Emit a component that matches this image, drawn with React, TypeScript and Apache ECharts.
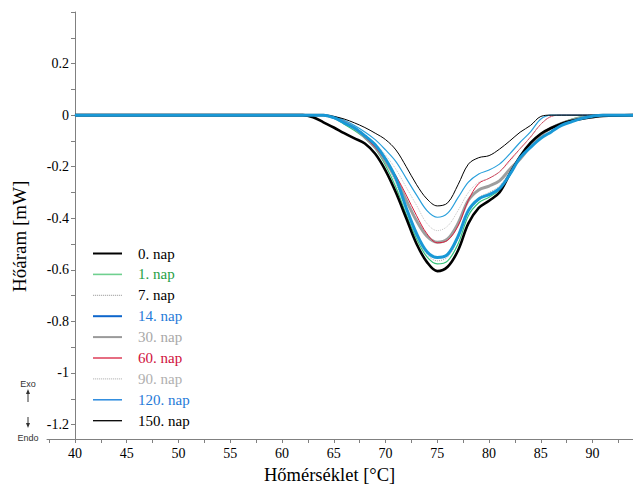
import React, { useEffect, useRef } from "react";
import * as echarts from "echarts";

const temps = [40, 62, 63, 64, 65, 66, 67, 68, 69, 70, 71, 72, 73, 74, 75, 76, 77, 78, 79, 80, 81, 82, 83, 84, 85, 86, 87, 88, 89, 90, 91, 94];

const nap0 = [0, 0, -0.008, -0.028, -0.048, -0.07, -0.09, -0.11, -0.15, -0.215, -0.3, -0.4, -0.5, -0.57, -0.605, -0.588, -0.525, -0.42, -0.36, -0.332, -0.3, -0.228, -0.16, -0.108, -0.072, -0.05, -0.033, -0.022, -0.014, -0.008, -0.003, 0];
const nap1 = [0, 0, 0, -0.002, -0.012, -0.035, -0.06, -0.09, -0.13, -0.195, -0.28, -0.385, -0.48, -0.55, -0.577, -0.565, -0.5, -0.39, -0.34, -0.318, -0.29, -0.23, -0.165, -0.12, -0.08, -0.05, -0.03, -0.015, -0.005, 0, 0, 0];
const nap7 = [0, 0, 0, -0.002, -0.01, -0.03, -0.055, -0.085, -0.125, -0.185, -0.265, -0.37, -0.47, -0.54, -0.565, -0.55, -0.48, -0.37, -0.32, -0.3, -0.275, -0.22, -0.16, -0.115, -0.08, -0.05, -0.03, -0.015, -0.005, 0, 0, 0];
const nap14 = [0, 0, 0, 0, -0.01, -0.03, -0.05, -0.08, -0.115, -0.17, -0.245, -0.36, -0.46, -0.53, -0.552, -0.54, -0.47, -0.37, -0.325, -0.308, -0.285, -0.23, -0.165, -0.125, -0.09, -0.065, -0.04, -0.025, -0.012, -0.004, 0, 0];
const nap30 = [0, 0, 0, 0, -0.008, -0.025, -0.05, -0.085, -0.125, -0.18, -0.245, -0.33, -0.41, -0.47, -0.493, -0.48, -0.42, -0.33, -0.29, -0.275, -0.255, -0.21, -0.17, -0.12, -0.078, -0.05, -0.032, -0.02, -0.01, -0.003, 0, 0];
const nap60 = [0, 0, 0, 0, -0.008, -0.025, -0.05, -0.085, -0.125, -0.175, -0.235, -0.31, -0.39, -0.46, -0.495, -0.485, -0.43, -0.33, -0.265, -0.245, -0.22, -0.175, -0.13, -0.085, -0.035, -0.005, 0, 0, 0, 0, 0, 0];
const nap90 = [0, 0, 0, 0, -0.007, -0.022, -0.045, -0.075, -0.11, -0.155, -0.21, -0.28, -0.35, -0.42, -0.448, -0.43, -0.37, -0.3, -0.26, -0.245, -0.22, -0.18, -0.13, -0.085, -0.035, -0.005, 0, 0, 0, 0, 0, 0];
const nap120 = [0, 0, 0, 0, -0.006, -0.02, -0.04, -0.065, -0.095, -0.135, -0.18, -0.245, -0.31, -0.37, -0.396, -0.38, -0.32, -0.26, -0.228, -0.213, -0.19, -0.15, -0.105, -0.065, -0.015, 0, 0, 0, 0, 0, 0, 0];
const nap150 = [0, 0, 0, 0, -0.005, -0.015, -0.03, -0.048, -0.07, -0.095, -0.135, -0.2, -0.27, -0.325, -0.352, -0.34, -0.27, -0.19, -0.165, -0.157, -0.132, -0.1, -0.066, -0.04, -0.005, 0, 0, 0, 0, 0, 0, 0];

const seriesNames = ["0. nap", "1. nap", "7. nap", "14. nap", "30. nap", "60. nap", "90. nap", "120. nap", "150. nap"];
const seriesValues = [nap0, nap1, nap7, nap14, nap30, nap60, nap90, nap120, nap150];

const yTickLabels = [0.2, 0, -0.2, -0.4, -0.6, -0.8, -1, -1.2];
const yTicks = [0.4, 0.3, 0.2, 0.1, 0, -0.1, -0.2, -0.3, -0.4, -0.5, -0.6, -0.7, -0.8, -0.9, -1, -1.1, -1.2];
const xTickLabels = [40, 45, 50, 55, 60, 65, 70, 75, 80, 85, 90];
const xTicks = [37.5, 40, 42.5, 45, 47.5, 50, 52.5, 55, 57.5, 60, 62.5, 65, 67.5, 70, 72.5, 75, 77.5, 80, 82.5, 85, 87.5, 90, 92.5];

const styles = [
  { color: "#000000", width: 2.6, type: "solid", text: "#000000", legendColor: "#000000", legendH: 2 },
  { color: "#35c27a", width: 1.2, type: "solid", text: "#1fa045", legendColor: "#6fd08f", legendH: 1.6 },
  { color: "#a8a8a8", width: 1, type: "dotted", text: "#000000", legendColor: "#b4b4b4", legendH: 1.2 },
  { color: "#1898d6", width: 3, type: "solid", text: "#1f7ad8", legendColor: "#0d66cc", legendH: 2 },
  { color: "#9e9e9e", width: 3, type: "solid", text: "#a8a8a8", legendColor: "#9a9a9a", legendH: 2 },
  { color: "#d8203f", width: 1, type: "solid", text: "#d0103c", legendColor: "#d8203f", legendH: 1.3 },
  { color: "#c4c4c4", width: 1, type: "dotted", text: "#b0b0b0", legendColor: "#c4c4c4", legendH: 1.2 },
  { color: "#2aa0dc", width: 1.2, type: "solid", text: "#1f7ad8", legendColor: "#2a8ade", legendH: 1.5 },
  { color: "#000000", width: 1, type: "solid", text: "#000000", legendColor: "#000000", legendH: 1.3 },
];

const serif = "'Liberation Serif', 'Times New Roman', serif";

function legendIcon(h: number, dotted: boolean): string {
  if (!dotted) return `path://M0,0h29v${h}h-29z`;
  let d = "";
  for (let x = 0; x < 29; x += 2) d += `M${x},0h1.2v${h}h-1.2z`;
  d += `M28.9,0h0.1v${h}h-0.1z`;
  return "path://" + d;
}

export default function App() {
  const ref = useRef<HTMLDivElement>(null);
  useEffect(() => {
    if (!ref.current) return;
    const chart = echarts.init(ref.current, undefined, { renderer: "svg" });
    const fmt = (v: number) => String(Number(v.toFixed(2)));
    chart.setOption({
      animation: false,
      backgroundColor: "#ffffff",
      grid: { left: 47, right: 0, top: 12, bottom: 52 },
      legend: {
        orient: "vertical",
        left: 93,
        top: 246,
        padding: 0,
        itemWidth: 29,
        itemHeight: 14,
        itemGap: 5.9,
        textStyle: { fontFamily: serif, fontSize: 15, padding: [0, 0, 0, 11] },
        data: seriesNames.map((n, i) => ({
          name: n,
          icon: legendIcon(styles[i].legendH, styles[i].type === "dotted"),
          itemStyle: { color: styles[i].legendColor, borderWidth: 0 },
          textStyle: { color: styles[i].text },
        })),
      },
      xAxis: {
        type: "value",
        min: 37.3,
        max: 93.9,
        axisLine: { onZero: false, lineStyle: { color: "#808080", width: 1 } },
        axisTick: { show: true, length: 4, customValues: xTicks, lineStyle: { color: "#808080" } },
        axisLabel: {
          customValues: xTickLabels,
          color: "#000",
          fontFamily: serif,
          fontSize: 14,
          margin: 7,
          formatter: (v: number) => fmt(v),
        },
        splitLine: { show: false },
      },
      yAxis: {
        type: "value",
        min: -1.256,
        max: 0.4,
        offset: -28,
        axisLine: { show: true, onZero: false, lineStyle: { color: "#808080", width: 1 } },
        axisTick: { show: true, length: 4, customValues: yTicks, lineStyle: { color: "#808080" } },
        axisLabel: {
          customValues: yTickLabels,
          color: "#000",
          fontFamily: serif,
          fontSize: 14,
          margin: 6,
          formatter: (v: number) => fmt(v),
        },
        splitLine: { show: false },
      },
      graphic: [
        {
          type: "text",
          left: 264,
          top: 465,
          style: { text: "Hőmérséklet [°C]", font: `18.5px ${serif}`, fill: "#000" },
        },
        {
          type: "text",
          x: 10,
          y: 292,
          rotation: Math.PI / 2,
          style: { text: "Hőáram [mW]", font: `19px ${serif}`, fill: "#000" },
        },
        {
          type: "text",
          x: 28,
          y: 384,
          style: { text: "Exo", font: "9px 'Liberation Sans', Arial, sans-serif", fill: "#333", align: "center", verticalAlign: "middle" },
        },
        { type: "line", shape: { x1: 28, y1: 402, x2: 28, y2: 392 }, style: { stroke: "#333", lineWidth: 1 } },
        { type: "polygon", shape: { points: [[26, 394], [28, 389], [30, 394]] }, style: { fill: "#333" } },
        { type: "line", shape: { x1: 28, y1: 417, x2: 28, y2: 425 }, style: { stroke: "#333", lineWidth: 1 } },
        { type: "polygon", shape: { points: [[26, 423], [28, 428], [30, 423]] }, style: { fill: "#333" } },
        {
          type: "text",
          x: 28,
          y: 438,
          style: { text: "Endo", font: "9px 'Liberation Sans', Arial, sans-serif", fill: "#333", align: "center", verticalAlign: "middle" },
        },
      ],
      series: seriesNames.map((n, i) => ({
        name: n,
        type: "line",
        data: temps.map((t, j) => [t, seriesValues[i][j]]),
        showSymbol: false,
        symbol: "none",
        smooth: 0.35,
        z: i === 3 ? 4 : i === 0 ? 3 : 2,
        color: styles[i].color,
        lineStyle: { color: styles[i].color, width: styles[i].width, type: styles[i].type },
      })),
    });
    return () => chart.dispose();
  }, []);
  return <div ref={ref} style={{ width: 633, height: 491, position: "absolute", left: 0, top: 0 }} />;
}
